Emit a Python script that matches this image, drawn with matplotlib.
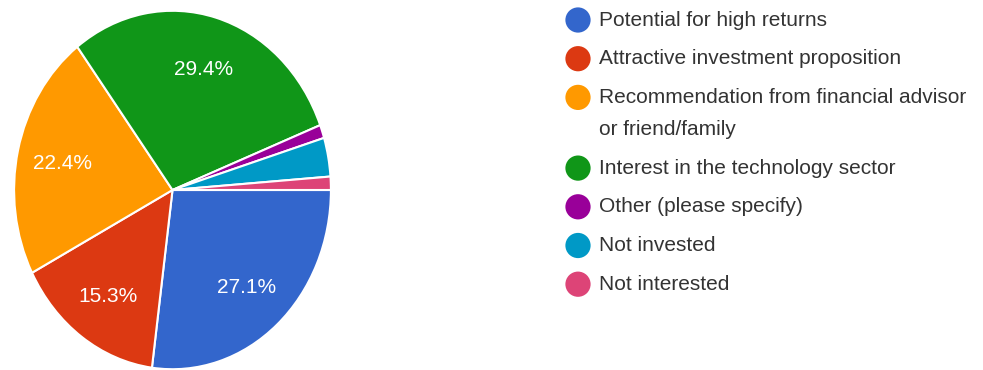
import numpy as np
import matplotlib
matplotlib.use("Agg")
from matplotlib import pyplot as plt

plt.rcParams['font.family'] = ['Liberation Sans', 'DejaVu Sans']

# survey answers, in drawing order (clockwise from 3 o'clock)
categorias = ["Potential for high returns",
              "Attractive investment proposition",
              "Recommendation from financial advisor\nor friend/family",
              "Interest in the technology sector",
              "Other (please specify)",
              "Not invested",
              "Not interested"]
porcentajes = [27.1, 15.3, 22.4, 29.4, 1.2, 3.5, 1.2]
colores = ["#3366CC", "#DC3912", "#FF9900", "#109618", "#990099", "#0099C6", "#DD4477"]

W, H = 983, 370
fig = plt.figure(figsize=(W/100, H/100), dpi=100)

# pie is a bit stretched vertically in the original screenshot
ax = fig.add_axes([12.5/W, -1/H, 320/W, 362/H])
def etiqueta(p):
    return '%.1f%%' % p if p > 5 else ''
wedges, txt, pcts = ax.pie(porcentajes, colors=colores, startangle=0, counterclock=False,
                           autopct=etiqueta, pctdistance=0.71, radius=1,
                           wedgeprops=dict(edgecolor='white', linewidth=1.5),
                           textprops=dict(color='white', fontsize=15))
for t in pcts:
    t.set_va('center_baseline')
ax.set_aspect('auto')
ax.set_xlim(-1.01, 1.01)
ax.set_ylim(-1.01, 1.01)
ax.axis('off')

# legend drawn by hand, pixel coords
lg = fig.add_axes([0, 0, 1, 1])
lg.set_xlim(0, W)
lg.set_ylim(H, 0)
lg.axis('off')

y = 20
paso = 38.7
for cat, col in zip(categorias, colores):
    lineas = cat.split('\n')
    lg.scatter([578], [y], s=330, color=col, edgecolors='none')
    for k, ln in enumerate(lineas):
        lg.text(599, y + k*32, ln, fontsize=15, color='#333333', va='center', ha='left')
    y += paso + 32*(len(lineas)-1)

plt.savefig('out.png', dpi=100)
plt.close()
